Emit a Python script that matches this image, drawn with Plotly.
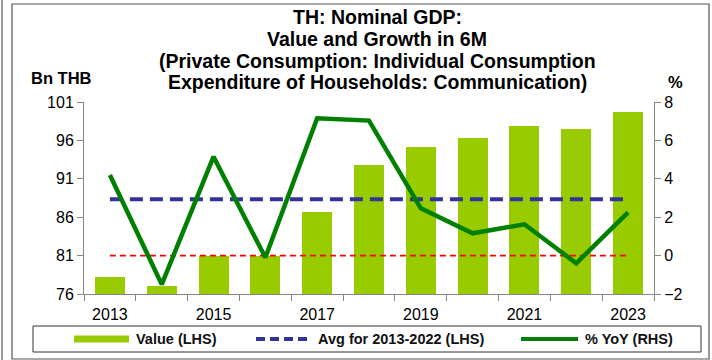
import plotly.graph_objects as go

# Nominal GDP, private consumption: communication (first six months)
years = [2013, 2014, 2015, 2016, 2017, 2018, 2019, 2020, 2021, 2022, 2023]
value_bn_thb = [78.2, 77.0, 81.0, 80.9, 86.7, 92.8, 95.1, 96.3, 97.9, 97.5, 99.7]
yoy_pct = [4.2, -1.5, 5.15, -0.1, 7.15, 7.03, 2.46, 1.16, 1.63, -0.4, 2.25]

avg_years = [y for y in years if y <= 2022]
avg_value = sum(v for y, v in zip(years, value_bn_thb) if y <= 2022) / len(avg_years)

left_ticks = [76, 81, 86, 91, 96, 101]
right_ticks = [-2, 0, 2, 4, 6, 8]
x_label_years = [2013, 2015, 2017, 2019, 2021, 2023]

title_lines = [
    "TH: Nominal GDP:",
    "Value and Growth in 6M",
    "(Private Consumption: Individual Consumption",
    "Expenditure of Households: Communication)",
]

W, H = 712, 360
ML, MR, MT, MB = 84, 58, 102, 66
PW, PH = W - ML - MR, H - MT - MB

FONT = "Liberation Sans, Arial, sans-serif"
BAR_C = "#99CC00"
AVG_C = "#333399"
YOY_C = "#008000"
ZERO_C = "#FF0000"
AXIS_C = "#868686"


def px(x):
    return (x - ML) / PW


def py(y):
    return (H - MB - y) / PH


fig = go.Figure()

fig.add_trace(go.Bar(
    x=years, y=value_bn_thb, name="Value (LHS)",
    marker=dict(color=BAR_C, line=dict(width=0)), width=0.58,
    showlegend=False, yaxis="y",
))
fig.add_trace(go.Scatter(
    x=years, y=[avg_value] * len(years), name="Avg for 2013-2022 (LHS)",
    mode="lines", line=dict(color=AVG_C, width=4, dash="13px,7px"),
    showlegend=False, yaxis="y",
))
fig.add_trace(go.Scatter(
    x=years, y=[0] * len(years), name="zero",
    mode="lines", line=dict(color=ZERO_C, width=1.6, dash="6px,4px"),
    showlegend=False, yaxis="y2",
))
fig.add_trace(go.Scatter(
    x=years, y=yoy_pct, name="% YoY (RHS)",
    mode="lines", line=dict(color=YOY_C, width=4.5),
    showlegend=False, yaxis="y2",
))

shapes = []
# outer frames
shapes.append(dict(type="rect", xref="paper", yref="paper",
                   x0=px(12), x1=px(709), y0=py(359), y1=py(4),
                   line=dict(color="#555555", width=1.2), layer="below"))
shapes.append(dict(type="line", xref="paper", yref="paper",
                   x0=px(2), x1=px(2), y0=py(362), y1=py(-2),
                   line=dict(color="#555555", width=1.2)))
# legend box
shapes.append(dict(type="rect", xref="paper", yref="paper",
                   x0=px(33), x1=px(701), y0=py(352), y1=py(326),
                   line=dict(color="#333333", width=1)))
leg_y = py(339)
shapes.append(dict(type="line", xref="paper", yref="paper",
                   x0=px(74), x1=px(129), y0=leg_y, y1=leg_y,
                   line=dict(color=BAR_C, width=7)))
shapes.append(dict(type="line", xref="paper", yref="paper",
                   x0=px(256), x1=px(311), y0=leg_y, y1=leg_y,
                   line=dict(color=AVG_C, width=4, dash="9px,5px")))
shapes.append(dict(type="line", xref="paper", yref="paper",
                   x0=px(521), x1=px(578), y0=leg_y, y1=leg_y,
                   line=dict(color=YOY_C, width=4)))

annotations = []
for x0, label in [(134, "Value (LHS)"), (316, "Avg for 2013-2022 (LHS)"), (583, "% YoY (RHS)")]:
    annotations.append(dict(xref="paper", yref="paper", x=px(x0), y=leg_y,
                            xanchor="left", yanchor="middle", showarrow=False,
                            text=f"<b>{label}</b>",
                            font=dict(family=FONT, size=14.5, color="#111111")))
annotations.append(dict(xref="paper", yref="paper", x=px(61), y=py(78),
                        xanchor="center", yanchor="middle", showarrow=False,
                        text="<b>Bn THB</b>", font=dict(family=FONT, size=16.5, color="#000000")))
annotations.append(dict(xref="paper", yref="paper", x=px(676), y=py(82),
                        xanchor="center", yanchor="middle", showarrow=False,
                        text="<b>%</b>", font=dict(family=FONT, size=16.5, color="#000000")))
# chart title, one line at a time
for yc, line in zip([17, 39, 61, 82], title_lines):
    annotations.append(dict(
        xref="paper", yref="paper", x=px(377), y=py(yc),
        xanchor="center", yanchor="middle", showarrow=False,
        text=f"<b>{line}</b>",
        font=dict(family=FONT, size=19.5, color="#000000"),
    ))

fig.update_layout(
    width=W, height=H,
    margin=dict(l=ML, r=MR, t=MT, b=MB, pad=0),
    paper_bgcolor="white", plot_bgcolor="white",
    font=dict(family=FONT, color="#000000"),
    showlegend=False,
    bargap=0,
    xaxis=dict(
        range=[2012.5, 2023.5],
        tickmode="array", tickvals=x_label_years,
        ticks="outside", ticklen=6, tickcolor="rgba(0,0,0,0)",
        minor=dict(tickmode="linear", tick0=2012.5, dtick=1,
                   ticks="outside", ticklen=6, tickcolor=AXIS_C, tickwidth=1),
        showline=True, linecolor=AXIS_C, linewidth=1,
        showgrid=False, zeroline=False,
        tickfont=dict(family=FONT, size=16, color="#000000"),
        fixedrange=True,
    ),
    yaxis=dict(
        range=[76, 101], tickmode="array", tickvals=left_ticks,
        ticks="outside", ticklen=6, tickcolor=AXIS_C,
        showline=True, linecolor=AXIS_C, linewidth=1,
        showgrid=False, zeroline=False,
        tickfont=dict(family=FONT, size=16, color="#000000"),
    ),
    yaxis2=dict(
        range=[-2, 8], tickmode="array", tickvals=right_ticks,
        overlaying="y", side="right",
        ticks="outside", ticklen=6, tickcolor=AXIS_C,
        showline=True, linecolor=AXIS_C, linewidth=1,
        showgrid=False, zeroline=False,
        tickfont=dict(family=FONT, size=16, color="#000000"),
    ),
    shapes=shapes,
    annotations=annotations,
)

fig.write_html("out.html")
